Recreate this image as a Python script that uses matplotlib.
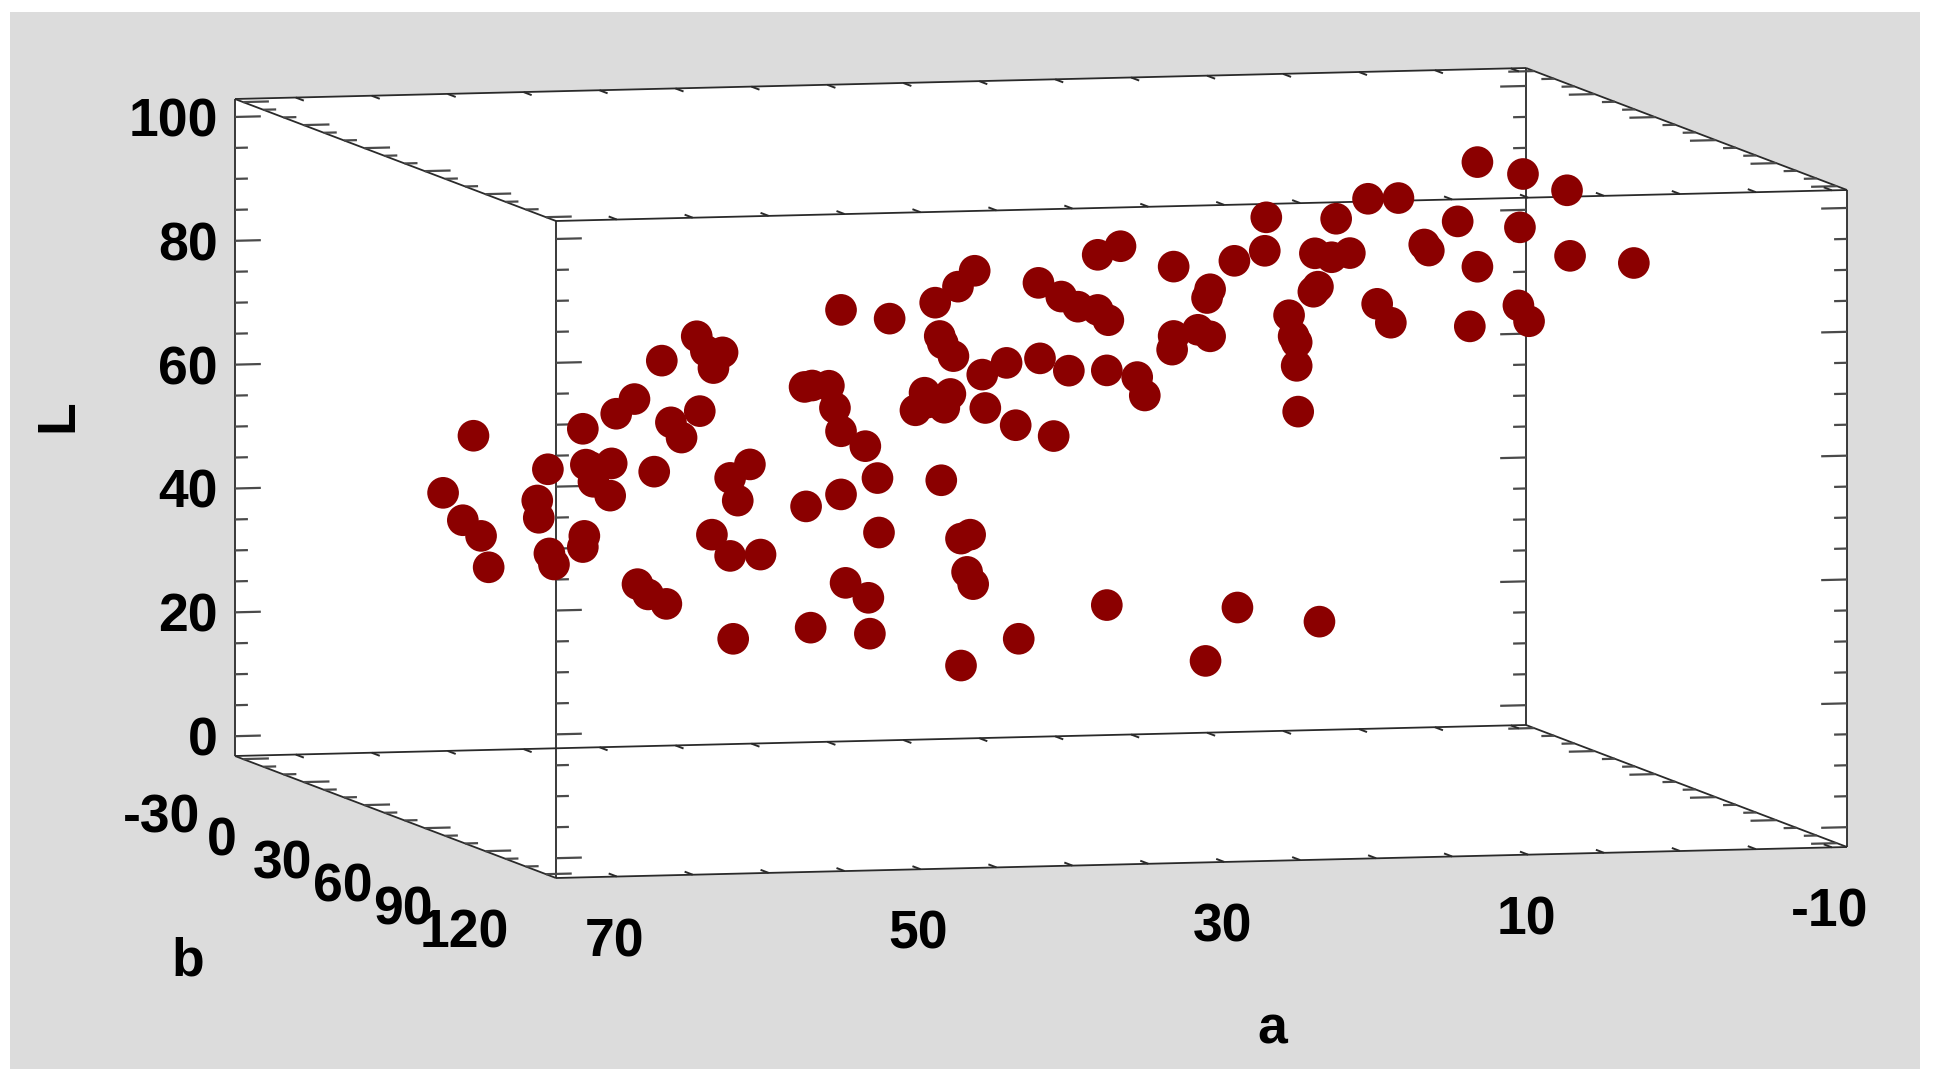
"""
3D scatter of L, a, b colour values drawn as a fixed oblique box on 2D axes.
"""

import matplotlib
matplotlib.use("Agg")
import matplotlib.pyplot as plt
import numpy as np
from matplotlib.patches import Polygon, Rectangle

plt.rcParams['font.family'] = ['Liberation Sans', 'DejaVu Sans']

# Axis ranges
a_range = (74.0, -11.0)
b_range = (-34.0, 125.0)
l_range = (-3.2, 102.9)

a_ticks = [70, 50, 30, 10, -10]
b_ticks = [-30, 0, 30, 60, 90, 120]
l_ticks = [0, 20, 40, 60, 80, 100]

# The depth of single samples can't be read off, so all sit at the mid depth
b_depth = 45.0

a_values = [
    70.8, 69.5, 68.3, 67.8, 68.8, 64.6, 64.5, 63.8, 63.5, 63.9, 61.5, 61.6,
    61.6, 61.4, 61.1, 60.9, 59.7, 59.8, 59.4, 58.2, 56.9, 56.4, 55.8, 55.1,
    53.9, 54.1, 53.5, 52.4, 53.0, 51.9, 50.6, 51.4, 53.1, 51.9, 49.9, 58.0,
    57.3, 56.1, 51.7, 46.6, 46.9, 44.6, 47.0, 46.5, 45.4, 45.0, 44.6, 43.0,
    42.2, 42.1, 44.3, 42.8, 42.7, 44.6, 41.4, 38.4, 36.9, 35.8, 38.1, 37.9,
    37.2, 39.7, 39.1, 38.9, 37.8, 37.4, 38.0, 36.7, 36.1, 36.3, 35.9, 36.7,
    32.9, 35.3, 33.7, 35.1, 33.1, 30.6, 31.5, 29.6, 31.6, 30.1, 29.0, 27.7,
    27.0, 27.7, 26.2, 27.1, 25.1, 24.6, 27.1, 22.7, 22.7, 22.8, 21.1, 20.3,
    20.5, 20.3, 18.7, 20.6, 18.5, 16.6, 16.7, 15.1, 14.8, 14.6, 14.6, 14.5,
    13.1, 13.5, 13.2, 13.4, 12.3, 11.1, 12.0, 9.9, 7.9, 9.3, 8.4, 6.2,
    5.9, 4.0, 2.7, -0.3, -3.2, -0.1, 2.7, -3.4, -7.6, 3.2, 0.0, -0.7,
]
l_values = [
    48.9, 44.4, 41.8, 36.7, 58.0, 47.3, 44.5, 38.7, 36.9, 52.3, 41.4, 39.6,
    58.7, 52.9, 52.5, 50.1, 53.0, 47.8, 61.0, 63.3, 51.5, 69.4, 59.4, 56.9,
    61.1, 73.2, 70.8, 70.5, 68.0, 50.2, 52.3, 46.5, 41.1, 37.6, 37.7, 33.4,
    31.7, 30.1, 24.2, 25.7, 45.3, 47.1, 64.6, 64.8, 64.7, 61.1, 57.3, 54.8,
    49.6, 40.8, 32.8, 30.3, 24.5, 76.9, 75.3, 77.7, 80.2, 82.7, 72.3, 71.1,
    69.0, 60.4, 63.2, 61.6, 60.7, 62.9, 49.0, 39.5, 40.1, 34.1, 32.1, 19.0,
    23.1, 65.9, 67.7, 60.5, 57.6, 55.7, 68.3, 66.2, 80.5, 78.2, 76.5, 75.9,
    74.2, 84.8, 86.1, 66.1, 64.9, 61.9, 28.2, 82.6, 71.4, 69.2, 72.3, 71.2,
    77.4, 78.8, 83.3, 18.8, 27.3, 90.2, 84.8, 74.3, 70.9, 69.9, 66.1, 58.7,
    24.7, 78.0, 78.8, 84.2, 83.5, 84.1, 89.7, 92.8, 92.8, 75.8, 72.7, 85.2,
    84.2, 88.8, 98.3, 96.2, 93.4, 87.6, 81.4, 82.8, 81.4, 71.8, 75.0, 72.4,
]

# Oblique projection of the box, in figure pixels
origin = np.array([235.0, 756.0])
a_step = np.array([1291.0, -31.0]) / (a_range[0] - a_range[1])
b_step = np.array([321.0, 122.0]) / (b_range[1] - b_range[0])
l_step = np.array([0.0, -657.0]) / (l_range[1] - l_range[0])


def project(a, b, l):
    """Map a, b, L values to pixel positions."""
    a = np.asarray(a, dtype=float)
    b = np.asarray(b, dtype=float)
    l = np.asarray(l, dtype=float)
    x = origin[0] + (a_range[0] - a) * a_step[0] + (b - b_range[0]) * b_step[0] + (l - l_range[0]) * l_step[0]
    y = origin[1] + (a_range[0] - a) * a_step[1] + (b - b_range[0]) * b_step[1] + (l - l_range[0]) * l_step[1]
    return x, y


def draw_segment(ax, start, end, width=1.3, color='#2a2a2a'):
    """Draw a line between two (a, b, L) points."""
    x0, y0 = project(*start)
    x1, y1 = project(*end)
    ax.plot([x0, x1], [y0, y1], color=color, linewidth=width, solid_capstyle='butt', zorder=2)


fig = plt.figure(figsize=(19.36, 10.8), dpi=100, facecolor='white')
ax = fig.add_axes([0, 0, 1, 1])
ax.set_xlim(0, 1936)
ax.set_ylim(1080, 0)
ax.axis('off')

ax.add_patch(Rectangle((10, 12), 1910, 1057, facecolor='#dcdcdc', edgecolor='none', zorder=0))

a0, a1 = a_range
b0, b1 = b_range
l0, l1 = l_range

# White outline of the box
outline = [(a0, b0, l1), (a1, b0, l1), (a1, b1, l1), (a1, b1, l0), (a0, b1, l0), (a0, b0, l0)]
ax.add_patch(Polygon([project(*p) for p in outline], closed=True, facecolor='white', edgecolor='none', zorder=1))

# Box edges
for a in (a0, a1):
    for b in (b0, b1):
        draw_segment(ax, (a, b, l0), (a, b, l1))
for l in (l0, l1):
    for b in (b0, b1):
        draw_segment(ax, (a0, b, l), (a1, b, l))
    for a in (a0, a1):
        draw_segment(ax, (a, b0, l), (a, b1, l))

# L ticks point inward along the a direction on all four verticals
for l in np.arange(0, 101, 5):
    length = 1.7 if l % 20 == 0 else 0.85
    for b in (b0, b1):
        draw_segment(ax, (a0, b, l), (a0 - length, b, l), width=1.6, color='#4a4a4a')
        draw_segment(ax, (a1, b, l), (a1 + length, b, l), width=1.6, color='#4a4a4a')

# b ticks
for b in np.arange(-30, 121, 10):
    length = 1.7 if b % 30 == 0 else 0.85
    for l in (l0, l1):
        draw_segment(ax, (a0, b, l), (a0 - length, b, l), width=1.6, color='#4a4a4a')
        draw_segment(ax, (a1, b, l), (a1 + length, b, l), width=1.6, color='#4a4a4a')

# a ticks are very short
for a in np.arange(-10, 71, 5):
    for l in (l0, l1):
        draw_segment(ax, (a, b0, l), (a, b0 + 4, l), width=1.4)
        draw_segment(ax, (a, b1, l), (a, b1 - 4, l), width=1.4)

# Samples
points_x, points_y = project(a_values, np.full(len(a_values), b_depth), l_values)
ax.scatter(points_x, points_y, s=520, color='#8b0000', edgecolors='none', zorder=3)

# Tick labels
label_style = dict(fontsize=38.5, fontweight='bold', color='black', zorder=4)
for l in l_ticks:
    x, y = project(a0, b0, l)
    ax.text(x - 17, y, str(l), ha='right', va='center_baseline', **label_style)
for a in a_ticks:
    x, y = project(a, b1, l0)
    ax.text(x - 2, y + 60, str(a), ha='center', va='center_baseline', **label_style)
for b in b_ticks:
    x, y = project(a0, b, l0)
    ax.text(x - 82, y + 54, str(b), ha='center', va='center_baseline', **label_style)

# Axis titles
ax.text(58, 416, 'L', rotation=90, ha='center', va='center', **label_style)
ax.text(188, 961, 'b', ha='center', va='center', **label_style)
ax.text(1272, 1029, 'a', ha='center', va='center', **label_style)

fig.savefig('out.png', dpi=100)
